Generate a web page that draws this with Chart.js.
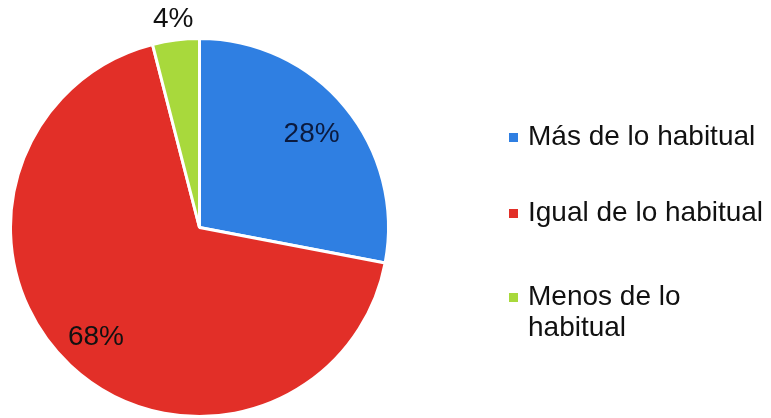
<!DOCTYPE html>
<html>
<head>
<meta charset="utf-8">
<script src="https://cdn.jsdelivr.net/npm/chart.js@4"></script>
<style>
  html,body{margin:0;padding:0;background:#fff;}
  #wrap{position:relative;width:771px;height:418px;}
</style>
</head>
<body>
<div id="wrap"><canvas id="pie" width="771" height="418"></canvas></div>
<script>
// datos
const categories = ['Más de lo habitual', 'Igual de lo habitual', ['Menos de lo', 'habitual']];
const values = [28, 68, 4];
const colors = ['#2f7fe2', '#e22f28', '#a8d93c'];
const labelColors = ['#0b1a3e', '#111111', '#111111'];

const FONT = '"Liberation Sans", Arial, sans-serif';

// etiquetas de porcentaje sobre cada porción
const pctLabels = {
  id: 'pctLabels',
  afterDatasetsDraw(chart){
    const ctx = chart.ctx;
    const meta = chart.getDatasetMeta(0);
    const total = values.reduce((s,v)=>s+v,0);
    ctx.save();
    ctx.font = '28px ' + FONT;
    ctx.textAlign = 'center';
    ctx.textBaseline = 'middle';
    meta.data.forEach((arc, i) => {
      const mid = (arc.startAngle + arc.endAngle) / 2;
      const share = values[i] / total;
      const r = share < 0.1 ? arc.outerRadius + 21 : arc.outerRadius * (share > 0.5 ? 0.8 : 0.77);
      const x = arc.x + Math.cos(mid) * r;
      const y = arc.y + Math.sin(mid) * r;
      ctx.fillStyle = labelColors[i];
      ctx.fillText(Math.round(share*100) + '%', x, y);
    });
    ctx.restore();
  }
};

// leyenda a la derecha (con texto en dos líneas)
const sideLegend = {
  id: 'sideLegend',
  afterDraw(chart){
    const ctx = chart.ctx;
    const rows = [137, 213, 297];
    ctx.save();
    ctx.font = '28px ' + FONT;
    ctx.textBaseline = 'middle';
    ctx.textAlign = 'left';
    categories.forEach((c, i) => {
      const lines = Array.isArray(c) ? c : [c];
      ctx.fillStyle = colors[i];
      ctx.fillRect(509, rows[i] - 4, 9, 9);
      ctx.fillStyle = '#111111';
      lines.forEach((ln, j) => ctx.fillText(ln, 528, rows[i] + j * 31));
    });
    ctx.restore();
  }
};

new Chart(document.getElementById('pie'), {
  type: 'pie',
  data: {
    labels: categories.map(c => Array.isArray(c) ? c.join(' ') : c),
    datasets: [{
      data: values,
      backgroundColor: colors,
      borderColor: '#ffffff',
      borderWidth: 3
    }]
  },
  options: {
    responsive: false,
    animation: false,
    layout: { padding: { left: 9, right: 381, top: 37, bottom: 0 } },
    plugins: { legend: { display: false }, tooltip: { enabled: false } }
  },
  plugins: [pctLabels, sideLegend]
});
</script>
</body>
</html>
